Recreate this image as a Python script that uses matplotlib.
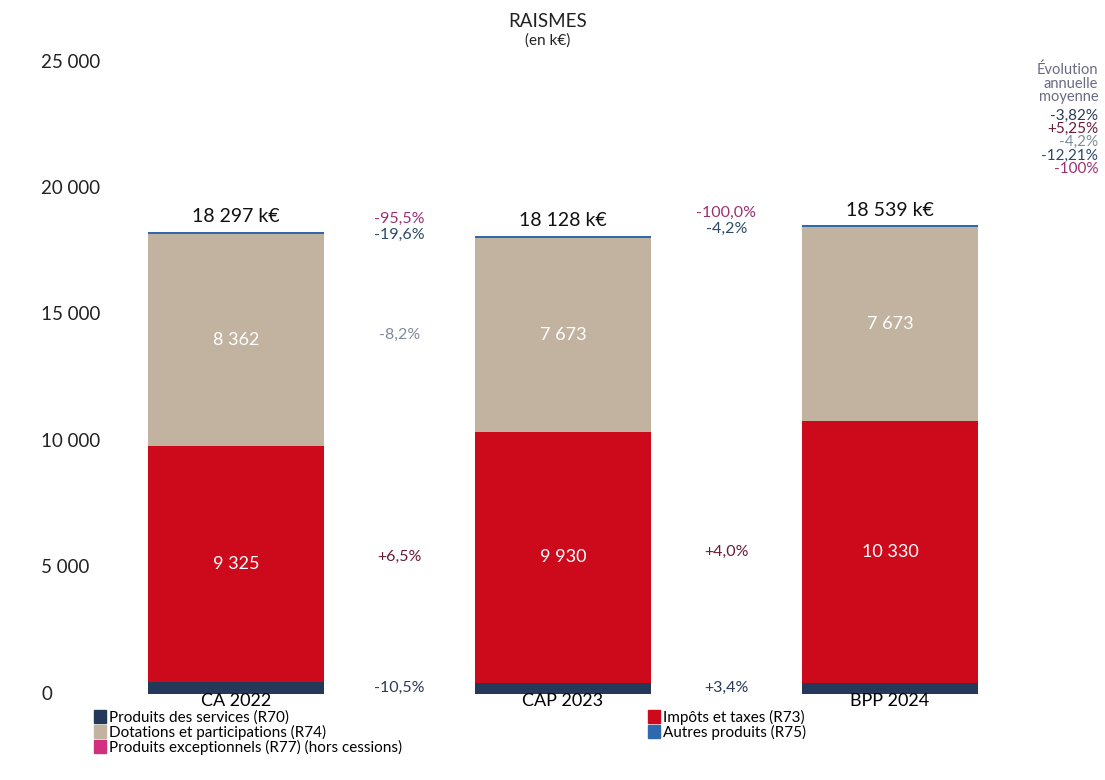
import matplotlib.pyplot as plt
import matplotlib.patches as mpatches
import numpy as np

plt.rcParams['font.family'] = ['Lato', 'DejaVu Sans']

# data (k€)
years = ['CA 2022', 'CAP 2023', 'BPP 2024']
r70 = [498, 446, 461]
r73 = [9325, 9930, 10330]
r74 = [8362, 7673, 7673]
r75 = [90, 78, 75]
r77 = [22, 1, 0]

series_names = ['Produits des services (R70)', 'Impôts et taxes (R73)',
                'Dotations et participations (R74)', 'Autres produits (R75)',
                'Produits exceptionnels (R77) (hors cessions)']
series_colors = ['#24395a', '#cc0a1c', '#c2b3a0', '#2f69ad', '#d0307e']
text_colors = ['#2a3a55', '#6a1a38', '#7f8c99', '#2c4a66', '#9a3070']

# évolutions entre exercices
evol_1 = ['-10,5%', '+6,5%', '-8,2%', '-19,6%', '-95,5%']
evol_2 = ['+3,4%', '+4,0%', '', '-4,2%', '-100,0%']
evol_moy = ['-3,82%', '+5,25%', '-4,2%', '-12,21%', '-100%']

data = np.array([r70, r73, r74, r75, r77], dtype=float)
x = np.arange(len(years))

fig = plt.figure(figsize=(11.05, 7.8), dpi=100)
ax = fig.add_axes([0.09, 0.110, 0.825, 0.8105])

bottoms = np.zeros(len(years))
for vals, col, name in zip(data, series_colors, series_names):
    ax.bar(x, vals, bottom=bottoms, width=0.54, color=col, label=name, zorder=2)
    bottoms += vals

totals = data.sum(axis=0)

def fmt(v):
    return f"{int(round(v)):,}".replace(',', ' ')

# labels inside R73 and R74
for i in range(len(years)):
    b73 = data[0, i]
    ax.text(x[i], b73 + data[1, i] / 2, fmt(data[1, i]), color='white',
            ha='center', va='center', fontsize=13)
    b74 = b73 + data[1, i]
    ax.text(x[i], b74 + data[2, i] / 2, fmt(data[2, i]), color='white',
            ha='center', va='center', fontsize=13)
    ax.text(x[i], totals[i] + 250, fmt(totals[i]) + ' k€', color='#111111',
            ha='center', va='bottom', fontsize=14)

# évolutions between bars
cum = np.cumsum(data, axis=0)
mids = cum - data / 2
for j, evols in enumerate([evol_1, evol_2]):
    xm = x[j] + 0.5
    mid = np.maximum(mids[:, j], mids[:, j + 1])
    top = max(totals[j], totals[j + 1])
    ypos = [mid[0], mid[1], mid[2], top - 150, top + 500]
    for s in range(5):
        if evols[s]:
            ax.text(xm, ypos[s], evols[s], color=text_colors[s], ha='center',
                    va='center', fontsize=11.5)

ax.set_xlim(-0.417, 2.37)
ax.set_ylim(0, 25000)
ax.set_axisbelow(False)
ax.axhline(0, color='#bbbbbb', lw=0.8, ls=(0, (1, 1.5)), zorder=1)
for s in ax.spines.values():
    s.set_visible(False)
ax.set_xticks(x)
ax.set_xticklabels(years, fontsize=13)
ax.tick_params(axis='x', length=0, pad=-1)
ax.set_yticks([])
for v in range(0, 25001, 5000):
    ax.text(-0.064, v, fmt(v), transform=ax.get_yaxis_transform(),
            ha='left', va='center', fontsize=13.5, color='#222222')

# titles
fig.text(0.496, 0.972, 'RAISMES', ha='center', va='center', fontsize=13.5, color='#222222')
fig.text(0.496, 0.948, '(en k€)', ha='center', va='center', fontsize=11, color='#222222')

# right column
fig.text(0.994, 0.893, 'Évolution\nannuelle\nmoyenne', ha='right', va='center',
         fontsize=10.5, color='#6a6a85', linespacing=0.95)
for s in range(5):
    fig.text(0.994, 0.852 - s * 0.0172, evol_moy[s], ha='right', va='center',
             fontsize=11, color=text_colors[s])

handles = [mpatches.Patch(color=c) for c in series_colors]
order = [0, 2, 4, 1, 3]
fig.legend([handles[k] for k in order], [series_names[k] for k in order],
           ncol=2, loc='upper left', bbox_to_anchor=(0.078, 0.1),
           frameon=False, fontsize=11, handlelength=0.8, handleheight=0.9,
           handletextpad=0.2, labelspacing=0.0, columnspacing=16.1, borderpad=0)

fig.savefig('out.png', dpi=100)
